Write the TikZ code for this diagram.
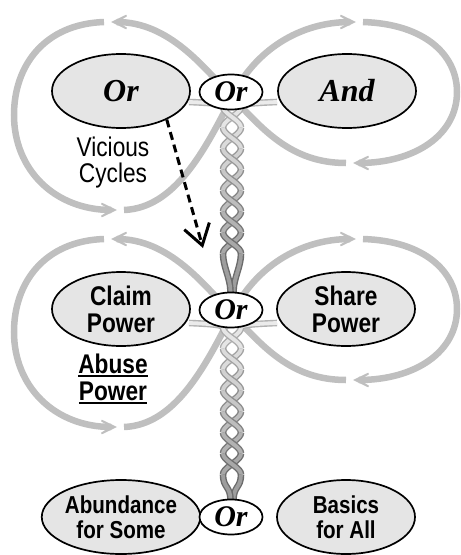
\documentclass[tikz,border=0pt]{standalone}
\usepackage{fontspec}
\setmainfont{Liberation Serif}
\setsansfont{Liberation Sans}[FakeStretch=0.84]
\usetikzlibrary{arrows.meta,shapes.geometric}
\newcommand\logicfont{\rmfamily\bfseries\itshape\fontsize{32}{32}\selectfont}
\newcommand\uln[1]{\leavevmode\setbox0=\hbox{#1}\rlap{\rule[-3.5pt]{\wd0}{2pt}}\box0}
\tikzset{
    swirl/.style={
    draw=black!25,line width=6.5pt,-{Stealth[length=28pt,width=27pt,inset=21pt]}
    },
    strand/.style n args={2}{
    draw=black!#2,line width=3.8pt,preaction={draw=black!#1,line width=6.6pt}
    },
    choice/.style={
    ellipse,draw=black,line width=1.7pt,fill=black!10,minimum width=138pt,minimum height=74pt,inner sep=0pt,align=center
    },
    link/.style={
    ellipse,draw=black,line width=1.7pt,fill=white,minimum width=63pt,minimum height=35pt,inner sep=0pt,
    font=\rmfamily\bfseries\itshape\fontsize{30}{30}\selectfont
    },
    power/.style={
    font=\sffamily\bfseries\fontsize{27}{27}\selectfont
    },
    basic/.style={
    font=\sffamily\bfseries\fontsize{24.5}{24.5}\selectfont
    },
    note/.style={
    align=center,inner sep=0pt
    },
    fall/.style={
    line width=3pt,dash pattern=on 8pt off 5pt,-{Straight Barb[length=20pt,width=26pt]}
    },
}

\begin{document}
\begin{tikzpicture}[x=1pt,y=-1pt]
  \useasboundingbox (0,0) rectangle (461,555);

  % the two figure-eight cycles
  \foreach \dy in {0,217}{
  \begin{scope}[shift={(0,\dy)}]
    \draw[swirl] (104,22) .. controls (45,24) and (14,65) .. (14,115) .. controls (14,170) and (55,210) .. (117,210);
    \draw[swirl] (124,210) .. controls (175,208) and (205,150) .. (232,97) .. controls (255,50) and (300,22) .. (356,22);
    \draw[swirl] (363,22) .. controls (425,24) and (457,55) .. (457,92) .. controls (457,135) and (415,163) .. (353,163);
    \draw[swirl] (346,163) .. controls (290,163) and (262,128) .. (232,97) .. controls (205,69) and (170,22) .. (111,22);
  \end{scope}}

  % twisted ropes
  \foreach \yt/\ye in {117/292,338/500}{
    \draw[strand={30}{8}] (277,\yt-15) .. controls (252,\yt-14) and (241,\yt-13) .. (241,\yt-10.5);
    \draw[strand={30}{8}] (189,\yt-15) .. controls (214,\yt-14) and (223,\yt-13) .. (223,\yt-10.5);
    \foreach \k in {0,...,6}{
      \pgfmathsetmacro\sg{cos(\k*180)}
      \pgfmathtruncatemacro\lt{10+4*\k}
      \pgfmathtruncatemacro\dk{32+4*\k}
      \draw[strand={\dk}{\lt}] plot[domain=-90:90,samples=10,smooth,variable=\t]
        ({232-\sg*9*sin(\k*180+\t)},{\yt+21*\k+\t*21/180});
      \draw[strand={\dk}{\lt}] plot[domain=-90:90,samples=10,smooth,variable=\t]
        ({232+\sg*9*sin(\k*180+\t)},{\yt+21*\k+\t*21/180});
    }
    \draw[strand={58}{38}] (241,\yt+136.5) .. controls (241,\yt+150) and (233.5,\ye-14) .. (233.5,\ye);
    \draw[strand={58}{38}] (223,\yt+136.5) .. controls (223,\yt+150) and (230.5,\ye-14) .. (230.5,\ye);
  }

  % choices
  \node[choice,font=\logicfont] (or1) at (121,91) {Or};
  \node[link] (orA) at (231,92) {Or};
  \node[choice,font=\logicfont] (and1) at (347,91) {And};

  \node[choice,power] (claim) at (121,309) {Claim\\Power};
  \node[link] (orB) at (231,310) {Or};
  \node[choice,power] (share) at (346,309) {Share\\Power};

  \node[choice,basic] (abund) at (121,517) {Abundance\\for Some};
  \node[link] (orC) at (231,517) {Or};
  \node[choice,basic] (basics) at (346,517) {Basics\\for All};

  \node[note,font=\sffamily\fontsize{27}{26}\selectfont] (vicious) at (113,163) {Vicious\\Cycles};
  \node[note,power] (abuse) at (113,379) {\uln{Abuse}\\\uln{Power}};

  \coordinate (drop) at (203,248);
  \draw[fall] (or1.-32) -- (drop);
\end{tikzpicture}
\end{document}
